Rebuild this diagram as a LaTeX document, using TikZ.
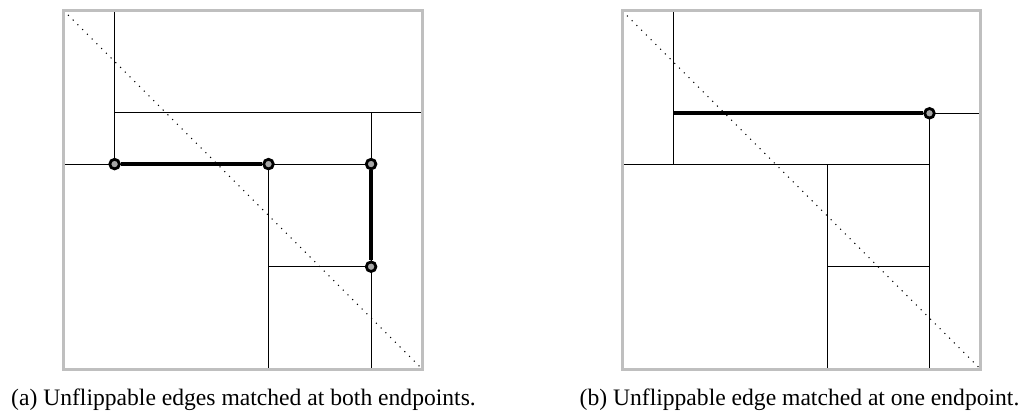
\documentclass[tikz,border=0pt]{standalone}
\usepackage{fontspec}
\setmainfont{Liberation Serif}
\begin{document}
\begin{tikzpicture}[x=0.5pt,y=-0.5pt,
  frame/.style={draw=black!25, line width=1.5pt},
  gridline/.style={line width=0.5pt},
  heavy/.style={line width=1.8pt},
  diag/.style={line width=0.55pt, dash pattern=on 0.55pt off 2.8pt},
  endpt/.style={circle, draw=black, fill=black!35, line width=1.4pt, inner sep=0pt, minimum size=4.8pt},
  captiontext/.style={font=\fontsize{11.8}{14}\selectfont, anchor=base, inner sep=0pt}]
\useasboundingbox (0,0) rectangle (1024,411);

% ---------- (a) ----------
\begin{scope}[shift={(63.3,369.3)}, x=25.65pt, y=25.65pt]
  \coordinate (a00) at (0,0);
  \coordinate (a77) at (7,7);
  \coordinate (a17) at (1,7);
  \coordinate (a15) at (1,5);
  \coordinate (a75) at (7,5);
  \coordinate (a04) at (0,4);
  \coordinate (a65) at (6,5);
  \coordinate (a60) at (6,0);
  \coordinate (a40) at (4,0);
  \coordinate (a07) at (0,7);
  \coordinate (a70) at (7,0);
  \draw[gridline] (a17) -- (1,4);
  \draw[gridline] (a15) -- (a75);
  \draw[gridline] (a04) -- (6,4);
  \draw[gridline] (a65) -- (a60);
  \draw[gridline] (4,4) -- (a40);
  \draw[gridline] (4,2) -- (6,2);
  \draw[diag] (a07) -- (a70);
  \draw[frame] (a00) rectangle (a77);
  \node[endpt] (pa1) at (1,4) {};
  \node[endpt] (pa2) at (4,4) {};
  \node[endpt] (pa3) at (6,4) {};
  \node[endpt] (pa4) at (6,2) {};
  \draw[heavy] (pa1) -- (pa2);
  \draw[heavy] (pa3) -- (pa4);
\end{scope}

% ---------- (b) ----------
\begin{scope}[shift={(622.3,369.3)}, x=25.6pt, y=25.6pt]
  \coordinate (b00) at (0,0);
  \coordinate (b77) at (7,7);
  \coordinate (b17) at (1,7);
  \coordinate (b14) at (1,4);
  \coordinate (b15) at (1,5);
  \coordinate (b75) at (7,5);
  \coordinate (b04) at (0,4);
  \coordinate (b64) at (6,4);
  \coordinate (b60) at (6,0);
  \coordinate (b44) at (4,4);
  \coordinate (b40) at (4,0);
  \coordinate (b42) at (4,2);
  \coordinate (b62) at (6,2);
  \coordinate (b07) at (0,7);
  \coordinate (b70) at (7,0);
  \draw[gridline] (b17) -- (b14);
  \draw[gridline] (b15) -- (b75);
  \draw[gridline] (b04) -- (b64);
  \draw[gridline] (6,5) -- (b60);
  \draw[gridline] (b44) -- (b40);
  \draw[gridline] (b42) -- (b62);
  \draw[diag] (b07) -- (b70);
  \draw[frame] (b00) rectangle (b77);
  \node[endpt] (pb1) at (6,5) {};
  \draw[heavy] (b15) -- (pb1);
\end{scope}

\node[captiontext] (capa) at (243.5,406) {(a) Unflippable edges matched at both endpoints.};
\node[captiontext] (capb) at (799.5,406) {(b) Unflippable edge matched at one endpoint.};
\end{tikzpicture}
\end{document}
